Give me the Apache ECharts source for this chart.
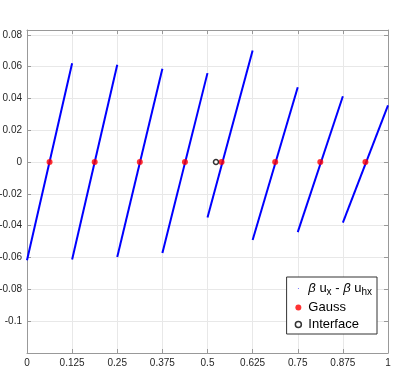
<!DOCTYPE html>
<html><head><meta charset="utf-8">
<script src="https://cdn.jsdelivr.net/npm/echarts@6/dist/echarts.min.js"></script>
<style>html,body{margin:0;padding:0;background:#fff}#c{width:399px;height:388px}</style>
</head><body><div id="c"></div>
<script>
const segX0 = [0, 0.125, 0.25, 0.375, 0.5, 0.625, 0.75, 0.875];
const segX1 = [0.125, 0.25, 0.375, 0.5, 0.625, 0.75, 0.875, 1];
const segY0 = [-0.0617, -0.0613, -0.0596, -0.0571, -0.0349, -0.049, -0.044, -0.038];
const segY1 = [0.0621, 0.0611, 0.0586, 0.0559, 0.0701, 0.047, 0.0414, 0.0356];
const gaussX = [0.0625, 0.1875, 0.3125, 0.4375, 0.539, 0.6875, 0.8125, 0.9375];
const gaussY = [0, 0, 0, 0, 0, 0, 0, 0];
const interfaceX = [0.5235];
const interfaceY = [0];
const xTicks = [0, 0.125, 0.25, 0.375, 0.5, 0.625, 0.75, 0.875, 1];
const yTicks = [-0.1, -0.08, -0.06, -0.04, -0.02, 0, 0.02, 0.04, 0.06, 0.08];

const FONT = 'Liberation Sans, Arial, Helvetica, sans-serif';
const fmt = v => { const r = parseFloat(v.toFixed(4)); return Math.abs(r) < 1e-9 ? '0' : String(r); };
const axisCol = '#999999';
const gridCol = '#e8e8e8';

const series = [];
for (let i = 0; i < segX0.length; i++) {
  series.push({
    name: 'u', type: 'line', showSymbol: false, symbol: 'none',
    data: [[segX0[i], segY0[i]], [segX1[i], segY1[i]]],
    lineStyle: {color: '#0000ff', width: 2}, itemStyle: {color: '#0000ff'},
    animation: false, z: 2
  });
}
series.push({
  name: 'Gauss', type: 'scatter', symbol: 'circle', symbolSize: 6,
  data: gaussX.map((x, i) => [x, gaussY[i]]),
  itemStyle: {color: '#ff0000'}, animation: false, z: 3
});
series.push({
  name: 'Interface', type: 'scatter', symbol: 'circle', symbolSize: 5,
  data: interfaceX.map((x, i) => [x, interfaceY[i]]),
  itemStyle: {color: '#ffffff', borderColor: '#000000', borderWidth: 1.5}, animation: false, z: 3
});

const chart = echarts.init(document.getElementById('c'), null, {renderer: 'canvas'});
chart.setOption({
  animation: false,
  backgroundColor: '#ffffff',
  grid: {left: 27, right: 11, top: 30, bottom: 35, show: false, containLabel: false, outerBoundsMode: 'none'},
  legend: {
    orient: 'vertical', right: 22, bottom: 54,
    backgroundColor: '#ffffff', borderColor: '#333333', borderWidth: 1,
    padding: [2, 5, 2, 8], itemGap: 2, itemWidth: 10, itemHeight: 6,
    data: [
      {name: 'u', icon: 'path://M0,0M10,10M4.2,5a0.8,0.8 0 1,0 1.6,0a0.8,0.8 0 1,0 -1.6,0', itemStyle: {color: '#0000ff'}},
      {name: 'Gauss', icon: 'circle', itemStyle: {color: '#ff0000'}},
      {name: 'Interface', icon: 'circle', itemStyle: {color: '#ffffff', borderColor: '#000', borderWidth: 1.5}}
    ],
    formatter: function (n) {
      if (n === 'u') return '{i|β} u{s|x} - {i|β} u{s|hx}';
      return n;
    },
    textStyle: {
      fontFamily: FONT, fontSize: 13, color: '#000000', lineHeight: 15,
      rich: {
        i: {fontFamily: FONT, fontSize: 13, fontStyle: 'italic', color: '#000', lineHeight: 19},
        s: {fontFamily: FONT, fontSize: 10, color: '#000', padding: [7, 0, 0, 0], lineHeight: 19}
      }
    }
  },
  xAxis: [{
    type: 'value', min: 0, max: 1, interval: 0.125, position: 'bottom',
    axisLine: {show: true, onZero: false, lineStyle: {color: axisCol, width: 1}},
    axisTick: {show: true, inside: true, length: 4, lineStyle: {color: axisCol}},
    axisLabel: {formatter: fmt, fontFamily: FONT, fontSize: 10, color: '#262626', margin: 5},
    splitLine: {show: true, lineStyle: {color: gridCol, width: 1}}
  }, {
    type: 'value', min: 0, max: 1, interval: 0.125, position: 'top',
    axisLine: {show: true, onZero: false, lineStyle: {color: axisCol, width: 1}},
    axisTick: {show: true, inside: true, length: 4, lineStyle: {color: axisCol}},
    axisLabel: {show: false}, splitLine: {show: false}
  }],
  yAxis: [{
    type: 'value', min: -0.12, max: 0.083, interval: 0.02, position: 'left',
    axisLine: {show: true, onZero: false, lineStyle: {color: axisCol, width: 1}},
    axisTick: {show: true, inside: true, length: 4, lineStyle: {color: axisCol}},
    axisLabel: {formatter: v => (v < -0.11 ? '' : fmt(v)), fontFamily: FONT, fontSize: 10, color: '#262626', margin: 5},
    splitLine: {show: true, lineStyle: {color: gridCol, width: 1}}
  }, {
    type: 'value', min: -0.12, max: 0.083, interval: 0.02, position: 'right',
    axisLine: {show: true, onZero: false, lineStyle: {color: axisCol, width: 1}},
    axisTick: {show: true, inside: true, length: 4, lineStyle: {color: axisCol}},
    axisLabel: {show: false}, splitLine: {show: false}
  }],
  series: series
});
</script></body></html>
